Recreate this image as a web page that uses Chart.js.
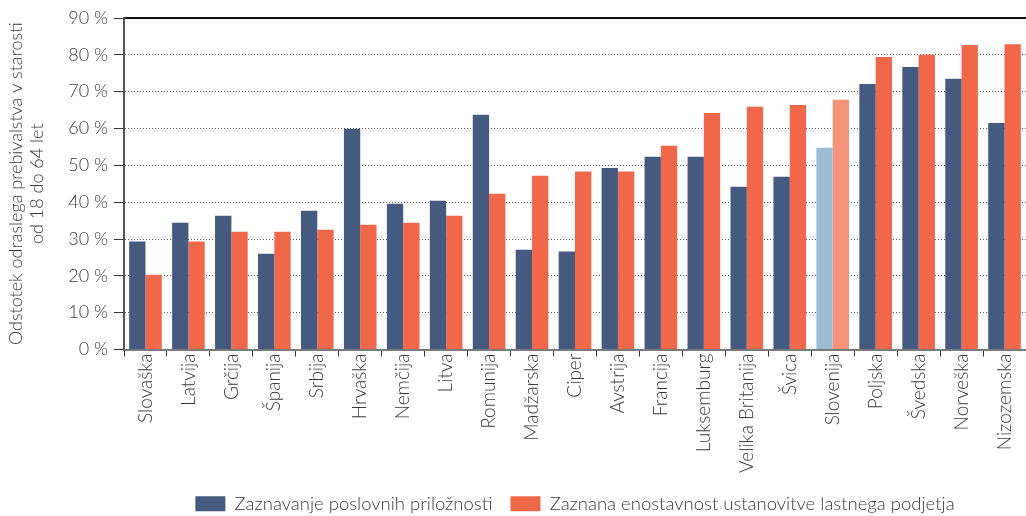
<!DOCTYPE html>
<html>
<head>
<meta charset="utf-8">
<script src="https://cdn.jsdelivr.net/npm/chart.js@4"></script>
<style>
  html, body { margin: 0; padding: 0; background: #fff; }
  #wrap { width: 1026px; height: 516px; }
</style>
</head>
<body>
<div id="wrap"><canvas id="chart"></canvas></div>
<script>
const countries = ['Slovaška', 'Latvija', 'Grčija', 'Španija', 'Srbija', 'Hrvaška', 'Nemčija', 'Litva',
    'Romunija', 'Madžarska', 'Ciper', 'Avstrija', 'Francija', 'Luksemburg', 'Velika Britanija',
    'Švica', 'Slovenija', 'Poljska', 'Švedska', 'Norveška', 'Nizozemska'];
const opportunities = [29.3, 34.4, 36.3, 26.0, 37.7, 59.9, 39.6, 40.4, 63.7, 27.1, 26.6,
    49.3, 52.3, 52.3, 44.2, 46.9, 54.8, 72.1, 76.7, 73.5, 61.5];
const easeOfStart = [20.3, 29.3, 32.0, 32.0, 32.5, 33.9, 34.4, 36.3, 42.3, 47.2, 48.3,
    48.3, 55.3, 64.2, 65.9, 66.4, 67.8, 79.4, 80.0, 82.7, 82.9];
const yTicks = [0, 10, 20, 30, 40, 50, 60, 70, 80, 90];
const highlight = 'Slovenija';

const BLUE = '#465a7f', ORANGE = '#f1674a';
const BLUE_LIGHT = '#9bbcd3', ORANGE_LIGHT = '#f49377';
const TEXT = '#3a3a3a';
const FONT = 'Lato, "Open Sans", sans-serif';

function colors(base, light) {
    return countries.map(c => c === highlight ? light : base);
}

// center the legend under the plot area instead of the whole canvas
const legendUnderPlot = {
    id: 'legendUnderPlot',
    afterLayout(chart) {
        if (chart.legend) chart.legend.left = chart.chartArea.left;
    }
};

new Chart(document.getElementById('chart'), {
    type: 'bar',
    data: {
        labels: countries,
        datasets: [
            { label: 'Zaznavanje poslovnih priložnosti', data: opportunities,
              backgroundColor: colors(BLUE, BLUE_LIGHT) },
            { label: 'Zaznana enostavnost ustanovitve lastnega podjetja', data: easeOfStart,
              backgroundColor: colors(ORANGE, ORANGE_LIGHT) }
        ]
    },
    plugins: [legendUnderPlot],
    options: {
        responsive: true,
        maintainAspectRatio: false,
        animation: false,
        categoryPercentage: 0.76,
        barPercentage: 1,
        layout: { padding: { top: 18, right: 0, left: 0, bottom: -7 } },
        scales: {
            x: {
                grid: { offset: true, drawOnChartArea: false, tickLength: 7, tickColor: '#333', tickWidth: 1 },
                border: { color: '#7a7a7a', width: 2 },
                ticks: { color: TEXT, font: { family: FONT, size: 19, weight: 300 },
                         minRotation: 90, maxRotation: 90, padding: -3, autoSkip: false },
                afterFit: s => { s.height = 127; }
            },
            xTop: {
                position: 'top',
                grid: { display: false },
                ticks: { display: false },
                border: { color: '#111', width: 2 },
                afterFit: s => { s.height = 0; }
            },
            y: {
                min: 0, max: 90,
                afterBuildTicks: s => { s.ticks = yTicks.map(v => ({ value: v })); },
                grid: {
                    color: c => (c.tick && (c.tick.value === 0 || c.tick.value === 90)) ? 'rgba(0,0,0,0)' : '#555',
                    lineWidth: 1,
                    tickLength: 10, tickColor: '#333', tickWidth: 1
                },
                border: { color: '#555', width: 2, dash: [1, 2] },
                ticks: { color: TEXT, padding: 6, font: { family: FONT, size: 18, weight: 300 },
                         callback: v => v + ' %' },
                title: {
                    display: true,
                    text: ['Odstotek odraslega prebivalstva v starosti', 'od 18 do 64 let'],
                    color: TEXT,
                    font: { family: FONT, size: 18, weight: 300, lineHeight: 1.15 },
                    padding: { top: 6, bottom: 0 }
                },
                afterFit: s => { s.width = 124; }
            }
        },
        plugins: {
            legend: {
                position: 'bottom',
                labels: { color: TEXT, boxWidth: 30, boxHeight: 15, padding: 18,
                          font: { family: FONT, size: 18.5, weight: 300 } }
            },
            tooltip: { enabled: false }
        }
    }
});
</script>
</body>
</html>
